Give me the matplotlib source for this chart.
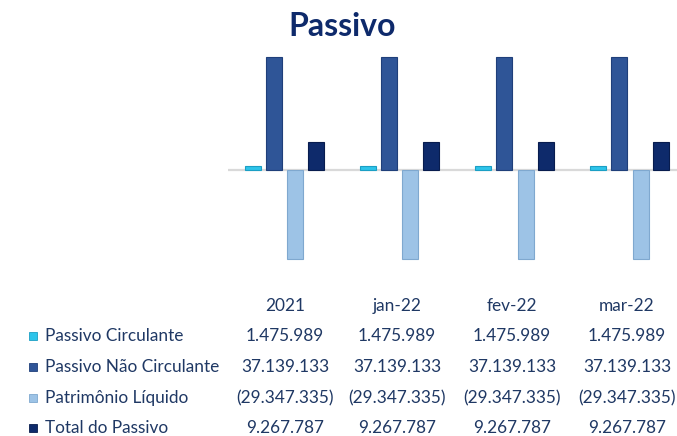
import matplotlib
matplotlib.use("Agg")
import matplotlib.pyplot as plt
from matplotlib.patches import Rectangle
import numpy as np

categories = ["2021", "jan-22", "fev-22", "mar-22"]
series_names = ["Passivo Circulante", "Passivo Não Circulante", "Patrimônio Líquido", "Total do Passivo"]
passivo_circulante = [1475989, 1475989, 1475989, 1475989]
passivo_nao_circulante = [37139133, 37139133, 37139133, 37139133]
patrimonio_liquido = [-29347335, -29347335, -29347335, -29347335]
total_passivo = [9267787, 9267787, 9267787, 9267787]
series = [passivo_circulante, passivo_nao_circulante, patrimonio_liquido, total_passivo]
colors = ["#2EC4EA", "#2F5597", "#9DC3E6", "#0E2A6B"]
edges = ["#1B9FC4", "#1F3F7A", "#7FA8CF", "#081C4E"]
text_color = "#1F3864"

def fmt(v):
    s = f"{abs(v):,}".replace(",", ".")
    return f"({s})" if v < 0 else s

plt.rcParams['font.family'] = ['Lato', 'DejaVu Sans']

W, H = 677, 436
fig = plt.figure(figsize=(W / 100, H / 100), dpi=100)
ax = fig.add_axes([228 / W, 1 - 265 / H, 1 - 228 / W, 215 / H])

x = np.arange(len(categories))
offsets = [-0.273, -0.093, 0.095, 0.273]
width = 0.139
for vals, off, c, e in zip(series, offsets, colors, edges):
    ax.bar(x + off, vals, width=width, color=c, edgecolor=e, linewidth=0.8, zorder=3)

ax.axhline(0, color="#D9D9D9", linewidth=1.6, zorder=2)
ax.set_xlim(-0.49, 3.41)
ax.set_ylim(-31.25e6, 39.47e6)
ax.axis("off")

fig.text(342 / W, 1 - 26 / H, "Passivo", ha="center", va="center",
         fontsize=23, fontweight="bold", color="#0E2A6B")

col_x = [285, 397, 512, 627]
header_y = 306
row_y = [336, 367, 398, 428]
fs = 12.4
for cx, cat in zip(col_x, categories):
    fig.text(cx / W, 1 - header_y / H, cat, ha="center", va="center", fontsize=fs, color=text_color)

for ry, name, vals, c, e in zip(row_y, series_names, series, colors, edges):
    fig.patches.append(Rectangle((29 / W, 1 - (ry + 4) / H), 8 / W, 8 / H,
                                 transform=fig.transFigure, facecolor=c, edgecolor=e, linewidth=0.6))
    fig.text(45 / W, 1 - ry / H, name, ha="left", va="center", fontsize=fs, color=text_color)
    for cx, v in zip(col_x, vals):
        fig.text(cx / W, 1 - ry / H, fmt(v), ha="center", va="center", fontsize=fs, color=text_color)

fig.savefig("out.png", dpi=100)
